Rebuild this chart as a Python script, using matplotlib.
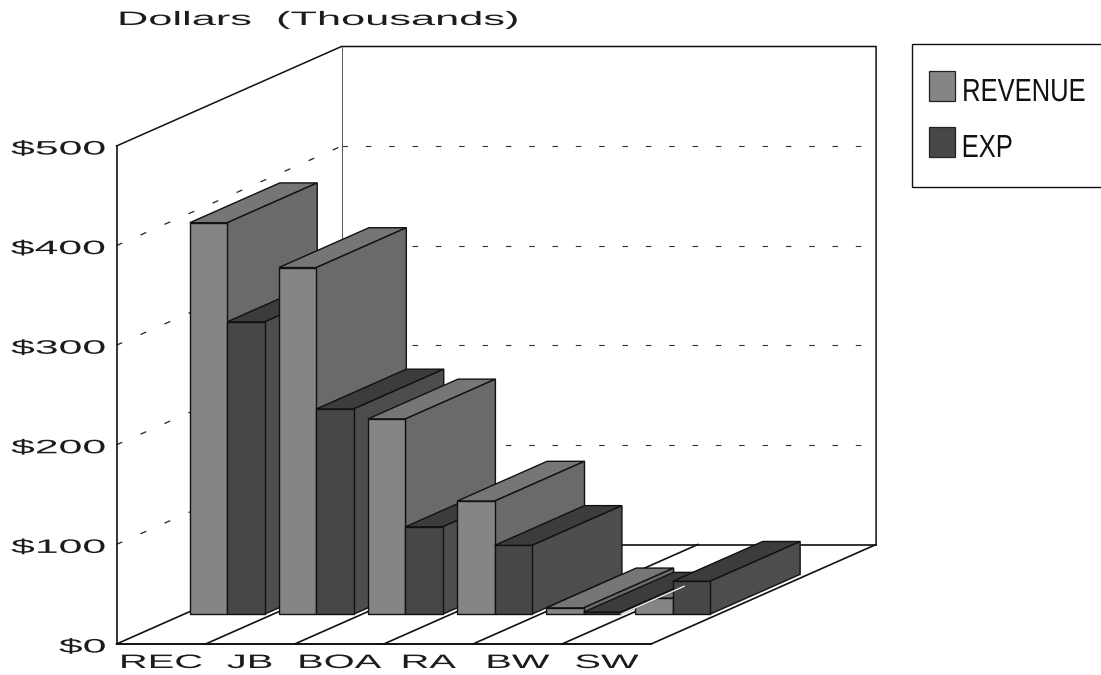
import matplotlib
matplotlib.use('Agg')
import matplotlib.pyplot as plt
from matplotlib.patches import Polygon, Rectangle
from matplotlib.patheffects import AbstractPathEffect
from matplotlib.transforms import Affine2D

# === DATA === #
categories = ['REC', 'JB', 'BOA', 'RA', 'BW', 'SW']
revenue = [393, 348, 196, 113.5, 6.3, 16]
expenses = [293.5, 206, 87.7, 69, 2, 33]
y_ticks = [0, 100, 200, 300, 400, 500]
y_tick_labels = ['$0', '$100', '$200', '$300', '$400', '$500']
series_names = ['REVENUE', 'EXP']

# === GEOMETRY OF THE 3D BOX, IN PIXELS === #
X0, Y0 = 116.5, 644.0
SLOT = 89.1
DEPTH_X, DEPTH_Y = 225.0, -99.5
PER_DOLLAR = 0.996
Y_MAX = 500

BAR_GAP = 0.065
BAR_W = 0.42
D_FRONT = 0.30
D_BACK = 0.70

REV_COLORS = ('#858585', '#6a6a6a', '#767676')
EXP_COLORS = ('#474747', '#4d4d4d', '#3c3c3c')
EDGE = '#111111'


def project(slot, depth, value):
    x = X0 + slot * SLOT + depth * DEPTH_X
    y = Y0 + depth * DEPTH_Y - value * PER_DOLLAR
    return (x, y)


class Stretch(AbstractPathEffect):
    # the scanned lettering is much wider (or narrower) than any installed font
    def __init__(self, sx, x0):
        super().__init__()
        self.sx = sx
        self.x0 = x0

    def draw_path(self, renderer, gc, tpath, affine, rgbFace=None):
        t = affine + Affine2D().translate(-self.x0, 0).scale(self.sx, 1).translate(self.x0, 0)
        renderer.draw_path(gc, tpath, t, rgbFace)


def label(ax, x, y, s, size, sx, ha='left', color='#1c1c1c'):
    ax.text(x, y, s, fontsize=size, ha=ha, va='baseline', color=color,
            family=['Liberation Sans', 'DejaVu Sans'],
            path_effects=[Stretch(sx, x)], zorder=20)


def draw_bar(ax, slot, value, colors):
    front, side, top = colors
    s0, s1 = slot, slot + BAR_W
    faces = [
        ([project(s0, D_FRONT, value), project(s1, D_FRONT, value),
          project(s1, D_BACK, value), project(s0, D_BACK, value)], top),
        ([project(s1, D_FRONT, 0), project(s1, D_FRONT, value),
          project(s1, D_BACK, value), project(s1, D_BACK, 0)], side),
        ([project(s0, D_FRONT, 0), project(s1, D_FRONT, 0),
          project(s1, D_FRONT, value), project(s0, D_FRONT, value)], front),
    ]
    for pts, col in faces:
        ax.add_patch(Polygon(pts, closed=True, facecolor=col, edgecolor=EDGE, linewidth=1.0, zorder=5))


fig = plt.figure(figsize=(11.01, 6.75), dpi=100)
ax = fig.add_axes([0, 0, 1, 1])
ax.set_xlim(0, 1101)
ax.set_ylim(675, 0)
ax.axis('off')

n = len(categories)
dash = (0, (5, 16))

# === WALLS AND FLOOR === #
for v in y_ticks[1:-1]:
    a, b, c = project(0, 0, v), project(0, 1, v), project(n - 0.16, 1, v)
    ax.plot([a[0], b[0]], [a[1], b[1]], color='#222222', lw=0.9, ls=dash)
    ax.plot([b[0], c[0]], [b[1], c[1]], color='#333333', lw=0.8, ls=dash)

corners = [project(0, 0, Y_MAX), project(0, 1, Y_MAX), project(n, 1, Y_MAX), project(n, 1, 0)]
ax.plot(*zip(*corners), color='#111111', lw=1.1)
ax.plot(*zip(project(0, 1, 0), project(0, 1, Y_MAX)), color='#555555', lw=0.7)
ax.plot(*zip(project(0, 1, 0), project(n, 1, 0)), color='#111111', lw=1.2)
ax.plot(*zip(project(0, 0, 0), project(0, 0, Y_MAX)), color='#111111', lw=1.2)
ax.plot(*zip(project(0, 0, 0), project(n, 0, 0)), color='#111111', lw=1.4)
for i in range(n + 1):
    ax.plot(*zip(project(i, 0, 0), project(i, 1, 0)), color='#111111', lw=1.2)

# === BARS, BACK TO FRONT === #
# in the original the SW revenue bar sits under the BW bars
draw_bar(ax, n - 1 + BAR_GAP, revenue[n - 1], REV_COLORS)
for i in range(n):
    if i != n - 1:
        draw_bar(ax, i + BAR_GAP, revenue[i], REV_COLORS)
    draw_bar(ax, i + BAR_GAP + BAR_W, expenses[i], EXP_COLORS)
    if i == n - 2:
        s = i + BAR_GAP + 2 * BAR_W
        ax.plot(*zip(project(s, D_FRONT, 0), project(s, D_BACK - 0.12, 0)), color='white', lw=0.9, zorder=6)

# === TEXT === #
label(ax, 117, 25, 'Dollars  (Thousands)', 14, 2.23)
for v, t in zip(y_ticks, y_tick_labels):
    label(ax, 107, project(0, 0, v)[1] + 8.5, t, 14, 2.2, ha='right')
for i, c in enumerate(categories):
    label(ax, project(i + 0.5, 0, 0)[0], 668, c, 14, 2.05, ha='center')

# === LEGEND === #
ax.add_patch(Rectangle((912, 44), 195, 143, facecolor='white', edgecolor='#111111', linewidth=1.0, zorder=10))
for y, col, name, base, right in zip([71, 127], [REV_COLORS[0], EXP_COLORS[0]], series_names, [101, 157], [1086, 1013]):
    ax.add_patch(Rectangle((929, y), 26, 30, facecolor=col, edgecolor='#222222', linewidth=0.9, zorder=11))
    label(ax, right, base, name, 23, 0.8, ha='right', color='#111111')

fig.savefig('out.png', dpi=100)
